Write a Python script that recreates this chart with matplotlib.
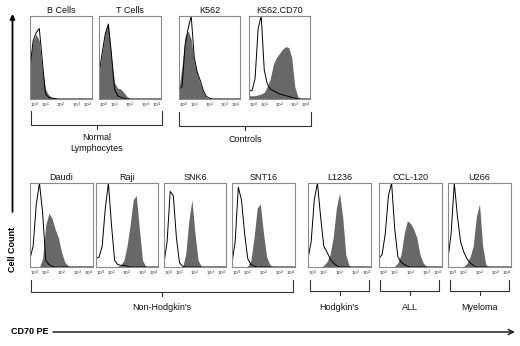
import matplotlib
matplotlib.use("Agg")
import matplotlib.pyplot as plt

plt.rcParams['font.family'] = ['Liberation Sans', 'DejaVu Sans']

# log10 fluorescence (decades) at which the histogram heights were read
decades = [0.0, 0.2, 0.4, 0.6, 0.8, 1.0, 1.2, 1.4, 1.6, 1.8, 2.0,
           2.2, 2.4, 2.6, 2.8, 3.0, 3.2, 3.4, 3.6, 3.8, 4.0]
tick_labels = [r'$10^0$', r'$10^1$', r'$10^2$', r'$10^3$', r'$10^4$']

panel_names = ["B Cells", "T Cells", "K562", "K562.CD70",
               "Daudi", "Raji", "SNK6", "SNT16", "L1236", "CCL-120", "U266"]

# CD70 PE stain (filled grey) - fraction of panel height
cd70_b = [0.45, 0.70, 0.78, 0.70, 0.35, 0.12, 0.05, 0.02, 0.01, 0.005, 0, 0, 0, 0, 0, 0, 0, 0, 0, 0, 0]
cd70_t = [0.30, 0.55, 0.80, 0.93, 0.50, 0.20, 0.13, 0.12, 0.08, 0.03, 0.01, 0, 0, 0, 0, 0, 0, 0, 0, 0, 0]
cd70_k562 = [0.12, 0.40, 0.75, 0.82, 0.72, 0.45, 0.30, 0.18, 0.08, 0.02, 0.005, 0, 0, 0, 0, 0, 0, 0, 0, 0, 0]
cd70_k562cd70 = [0.04, 0.04, 0.04, 0.05, 0.06, 0.08, 0.15, 0.25, 0.42, 0.50, 0.55, 0.60, 0.63, 0.62, 0.50, 0.15, 0.03, 0, 0, 0, 0]
cd70_daudi = [0, 0, 0, 0, 0.10, 0.50, 0.64, 0.58, 0.45, 0.35, 0.18, 0.06, 0.02, 0, 0, 0, 0, 0, 0, 0, 0]
cd70_raji = [0, 0, 0, 0, 0, 0, 0, 0.01, 0.02, 0.08, 0.25, 0.50, 0.80, 0.85, 0.45, 0.08, 0.01, 0, 0, 0, 0]
cd70_snk6 = [0, 0, 0, 0, 0, 0, 0, 0.15, 0.55, 0.80, 0.40, 0.08, 0.01, 0, 0, 0, 0, 0, 0, 0, 0]
cd70_snt16 = [0, 0, 0, 0, 0, 0.01, 0.08, 0.35, 0.70, 0.75, 0.40, 0.12, 0.03, 0, 0, 0, 0, 0, 0, 0, 0]
cd70_l1236 = [0, 0, 0, 0, 0, 0.02, 0.06, 0.15, 0.35, 0.70, 0.88, 0.60, 0.15, 0.02, 0, 0, 0, 0, 0, 0, 0]
cd70_ccl120 = [0, 0, 0, 0, 0, 0.01, 0.05, 0.15, 0.40, 0.55, 0.52, 0.45, 0.35, 0.15, 0.05, 0.01, 0, 0, 0, 0, 0]
cd70_u266 = [0, 0, 0, 0, 0, 0.01, 0.04, 0.12, 0.25, 0.60, 0.75, 0.25, 0.03, 0, 0, 0, 0, 0, 0, 0, 0]

# isotype control (open black line)
iso_b = [0.38, 0.70, 0.80, 0.85, 0.45, 0.06, 0.02, 0.01, 0.005, 0, 0, 0, 0, 0, 0, 0, 0, 0, 0, 0, 0]
iso_t = [0.30, 0.55, 0.78, 0.90, 0.55, 0.12, 0.04, 0.02, 0.01, 0, 0, 0, 0, 0, 0, 0, 0, 0, 0, 0, 0]
iso_k562 = [0.12, 0.15, 0.65, 0.85, 1.00, 0.50, 0.32, 0.22, 0.10, 0.03, 0.01, 0, 0, 0, 0, 0, 0, 0, 0, 0, 0]
iso_k562cd70 = [0.10, 0.10, 0.25, 0.85, 1.00, 0.35, 0.18, 0.12, 0.10, 0.08, 0.06, 0.05, 0.04, 0.03, 0.02, 0.01, 0, 0, 0, 0, 0]
iso_daudi = [0.10, 0.25, 0.75, 1.00, 0.65, 0.08, 0.03, 0.01, 0, 0, 0, 0, 0, 0, 0, 0, 0, 0, 0, 0, 0]
iso_raji = [0.10, 0.12, 0.25, 0.70, 1.00, 0.50, 0.08, 0.03, 0.02, 0.02, 0.01, 0, 0, 0, 0, 0, 0, 0, 0, 0, 0]
iso_snk6 = [0.05, 0.30, 0.90, 0.85, 0.35, 0.05, 0.01, 0, 0, 0, 0, 0, 0, 0, 0, 0, 0, 0, 0, 0, 0]
iso_snt16 = [0.05, 0.30, 0.95, 0.80, 0.40, 0.10, 0.03, 0.01, 0, 0, 0, 0, 0, 0, 0, 0, 0, 0, 0, 0, 0]
iso_l1236 = [0.10, 0.30, 0.80, 1.00, 0.60, 0.25, 0.18, 0.10, 0.05, 0.02, 0, 0, 0, 0, 0, 0, 0, 0, 0, 0, 0]
iso_ccl120 = [0.10, 0.15, 0.40, 0.85, 1.00, 0.45, 0.12, 0.06, 0.03, 0.01, 0, 0, 0, 0, 0, 0, 0, 0, 0, 0, 0]
iso_u266 = [0.10, 0.40, 1.00, 0.60, 0.30, 0.18, 0.10, 0.05, 0.02, 0, 0, 0, 0, 0, 0, 0, 0, 0, 0, 0, 0]

stains = [cd70_b, cd70_t, cd70_k562, cd70_k562cd70, cd70_daudi, cd70_raji,
          cd70_snk6, cd70_snt16, cd70_l1236, cd70_ccl120, cd70_u266]
isotypes = [iso_b, iso_t, iso_k562, iso_k562cd70, iso_daudi, iso_raji,
            iso_snk6, iso_snt16, iso_l1236, iso_ccl120, iso_u266]

group_labels = ["Normal\nLymphocytes", "Controls", "Non-Hodgkin's", "Hodgkin's", "ALL", "Myeloma"]

W, H = 520, 346
fig = plt.figure(figsize=(W / 100, H / 100), dpi=100)

# overlay in pixel coords for arrows / brackets
ov = fig.add_axes([0, 0, 1, 1], zorder=0)
ov.set_xlim(0, W)
ov.set_ylim(H, 0)
ov.axis('off')

# panel boxes (left, right) in px, rows (top, bottom)
top_row = (16, 99)
bot_row = (183, 267)
boxes = [(30, 92, top_row), (99, 161, top_row), (179, 240, top_row), (249, 310, top_row),
         (30, 93, bot_row), (96, 158, bot_row), (164, 226, bot_row), (232, 295, bot_row),
         (308, 371, bot_row), (379, 442, bot_row), (448, 511, bot_row)]

for name, filled, iso, (x0, x1, (y0, y1)) in zip(panel_names, stains, isotypes, boxes):
    ax = fig.add_axes([x0 / W, 1 - y1 / H, (x1 - x0) / W, (y1 - y0) / H], zorder=2)
    ax.fill_between(decades, filled, color='#686868', lw=0)
    ax.plot(decades, iso, color='black', lw=0.7)
    ax.set_xlim(0, 4)
    ax.set_ylim(0, 1.0)
    ax.set_yticks([])
    ax.set_xticks(range(5))
    labs = ax.set_xticklabels(tick_labels, fontsize=3.2, color='#222222')
    labs[0].set_ha('left')
    labs[-1].set_ha('right')
    ax.tick_params(axis='x', length=0, pad=1.5)
    for sp in ax.spines.values():
        sp.set_color('#8a8a8a')
        sp.set_linewidth(0.8)
    ax.set_title(name, fontsize=6.5, pad=2.5, color='#111111')

# brackets: (left, right, top of legs, line y, label y)
brackets = [(31, 162, 111, 125, 143), (179, 311, 112, 126, 140),
            (31, 293, 280, 292, 308), (310, 369, 280, 291, 308),
            (380, 439, 280, 291, 308), (450, 509, 280, 291, 308)]
for lab, (bl, br, bt, by, ly) in zip(group_labels, brackets):
    ov.plot([bl, bl, br, br], [bt, by, by, bt], color='#333333', lw=0.8)
    cx = (bl + br) / 2
    ov.plot([cx, cx], [by, by + 4], color='#333333', lw=0.8)
    ov.text(cx, ly, lab, ha='center', va='center', fontsize=6.5,
            color='#111111', linespacing=1.4)

# Cell Count axis arrow
ov.annotate('', xy=(12.5, 14), xytext=(12.5, 212),
            arrowprops=dict(arrowstyle='-|>', color='black', lw=1.3,
                            mutation_scale=7, shrinkA=0, shrinkB=0))
ov.text(12.5, 249, 'Cell Count', rotation=90, ha='center', va='center',
        fontsize=6.5, fontweight='bold')

# CD70 PE axis arrow
ov.text(11, 332, 'CD70 PE', ha='left', va='center', fontsize=6.5, fontweight='bold')
ov.annotate('', xy=(515, 332), xytext=(53, 332),
            arrowprops=dict(arrowstyle='->', color='#222222', lw=1.1,
                            mutation_scale=9, shrinkA=0, shrinkB=0))

fig.savefig('out.png', dpi=100)
